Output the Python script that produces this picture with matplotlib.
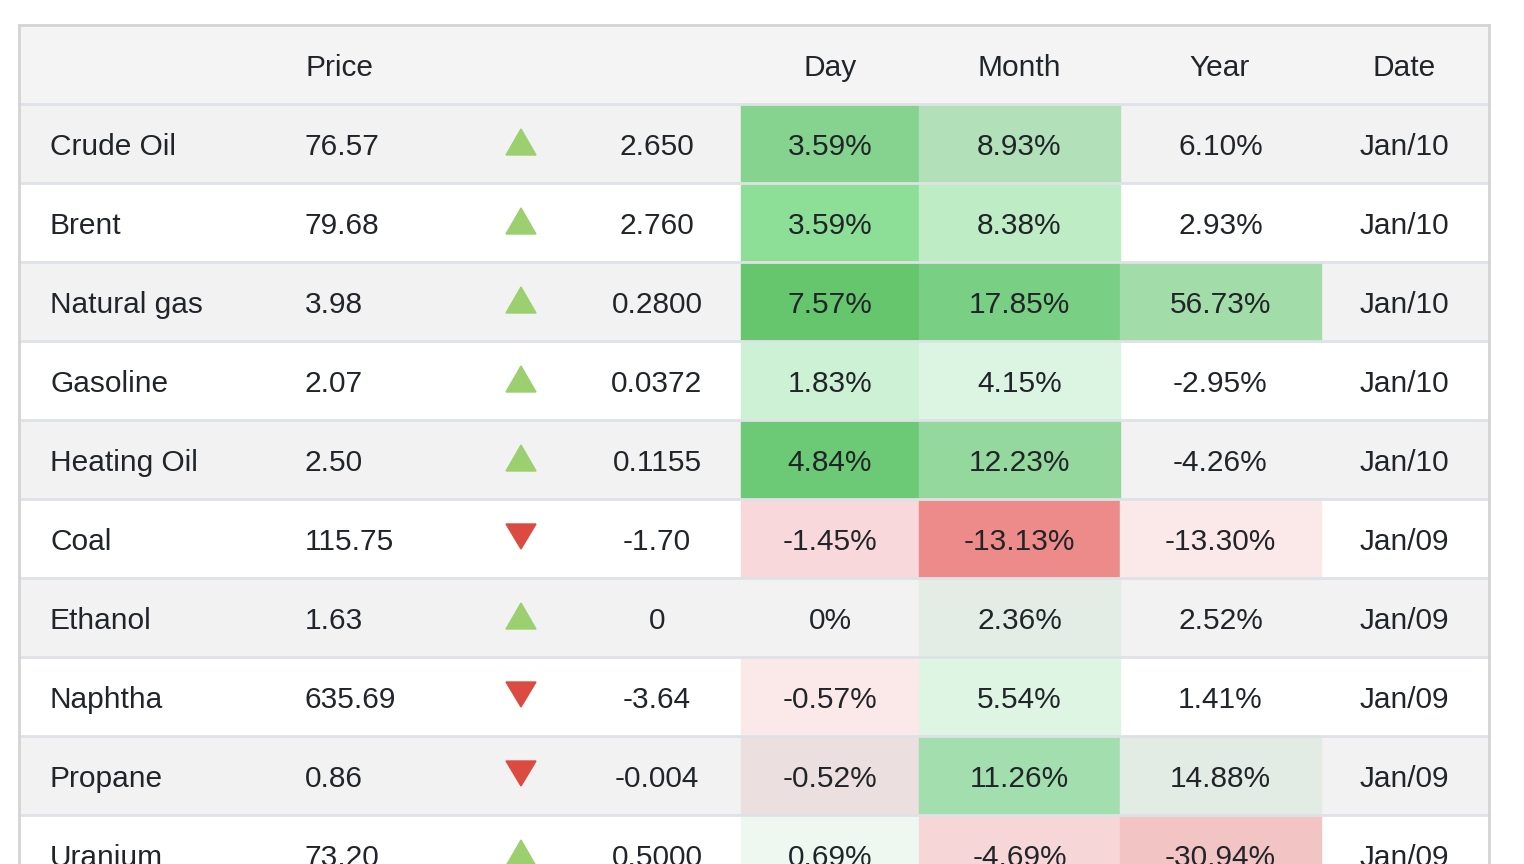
import matplotlib.pyplot as plt
from matplotlib.patches import Rectangle, Polygon

# table contents
names = ["Crude Oil", "Brent", "Natural gas", "Gasoline", "Heating Oil",
         "Coal", "Ethanol", "Naphtha", "Propane", "Uranium"]
prices = ["76.57", "79.68", "3.98", "2.07", "2.50",
          "115.75", "1.63", "635.69", "0.86", "73.20"]
changes = ["2.650", "2.760", "0.2800", "0.0372", "0.1155",
           "-1.70", "0", "-3.64", "-0.004", "0.5000"]
day_pct = ["3.59%", "3.59%", "7.57%", "1.83%", "4.84%",
           "-1.45%", "0%", "-0.57%", "-0.52%", "0.69%"]
month_pct = ["8.93%", "8.38%", "17.85%", "4.15%", "12.23%",
             "-13.13%", "2.36%", "5.54%", "11.26%", "-4.69%"]
year_pct = ["6.10%", "2.93%", "56.73%", "-2.95%", "-4.26%",
            "-13.30%", "2.52%", "1.41%", "14.88%", "-30.94%"]
dates = ["Jan/10", "Jan/10", "Jan/10", "Jan/10", "Jan/10",
         "Jan/09", "Jan/09", "Jan/09", "Jan/09", "Jan/09"]

# heat colours of the % cells (None = no shading)
day_colors = ["#85d38f", "#8ddf98", "#66c66d", "#cdf1d4", "#6cc975",
              "#f8d8da", None, "#fbe9e9", "#ebdfdf", "#eef8f0"]
month_colors = ["#b1e0b9", "#bdecc5", "#79cf83", "#dcf5e2", "#94d89d",
                "#ec8b89", "#e3ede5", "#ddf5e2", "#a3deae", "#f7d6d8"]
year_colors = [None, None, "#a1dca9", None, None,
               "#fbe8e8", None, None, "#e2ebe4", "#f2c4c4"]

plt.rcParams['font.family'] = ['Liberation Sans', 'DejaVu Sans']

W, H = 1524, 864
fig = plt.figure(figsize=(W / 100, H / 100), dpi=100)
ax = fig.add_axes([0, 0, 1, 1])
ax.set_xlim(0, W)
ax.set_ylim(H, 0)
ax.axis("off")

left, right = 19, 1489
top, head_h, row_h = 25, 79, 79
base = 51  # baseline offset inside a row
txt = "#212529"
fs = 21.5

# header
ax.add_patch(Rectangle((left, top), right - left, head_h, color="#f4f4f4", zorder=0))
hy = top + base
ax.text(305, hy, "Price", fontsize=fs, color=txt, ha="left", va="baseline")
for label, cx in [("Day", 830), ("Month", 1019), ("Year", 1220), ("Date", 1404)]:
    ax.text(cx, hy, label, fontsize=fs, color=txt, ha="center", va="baseline")

heat_cols = [(741, 919, day_pct, day_colors),
             (919, 1120, month_pct, month_colors),
             (1120, 1321, year_pct, year_colors)]

for i, name in enumerate(names):
    y0 = top + head_h + i * row_h
    by = y0 + base
    bg = "#f2f2f2" if i % 2 == 0 else "white"
    ax.add_patch(Rectangle((left, y0), right - left, row_h, color=bg, zorder=0))
    for x0, x1, vals, cols in heat_cols:
        if cols[i]:
            ax.add_patch(Rectangle((x0, y0), x1 - x0, row_h, color=cols[i], zorder=1))
        ax.text((x0 + x1) / 2, by, vals[i], fontsize=fs, color=txt,
                ha="center", va="baseline", zorder=3)
    ax.text(50, by, name, fontsize=fs, color=txt, ha="left", va="baseline", zorder=3)
    ax.text(305, by, prices[i], fontsize=fs, color=txt, ha="left", va="baseline", zorder=3)
    ax.text(657, by, changes[i], fontsize=fs, color=txt, ha="center", va="baseline", zorder=3)
    ax.text(1404, by, dates[i], fontsize=fs, color=txt, ha="center", va="baseline", zorder=3)

    # arrow
    if changes[i].startswith("-"):
        tri = [(506, y0 + 25), (536, y0 + 25), (521, y0 + 50)]
        ax.add_patch(Polygon(tri, closed=True, color="#dc4b41", zorder=3))
    else:
        tri = [(506, y0 + 51), (536, y0 + 51), (521, y0 + 25)]
        ax.add_patch(Polygon(tri, closed=True, color="#9ccf6f", zorder=3))

    # separator above the row
    ax.plot([left, right], [y0, y0], color="#dee2e6", lw=2, zorder=2)

# outer border
ax.plot([left, left], [top, H], color="#d4d4d4", lw=2, zorder=4)
ax.plot([right, right], [top, H], color="#d4d4d4", lw=2, zorder=4)
ax.plot([left, right], [top, top], color="#d4d4d4", lw=2, zorder=4)

fig.savefig("out.png", dpi=100, facecolor="white")
